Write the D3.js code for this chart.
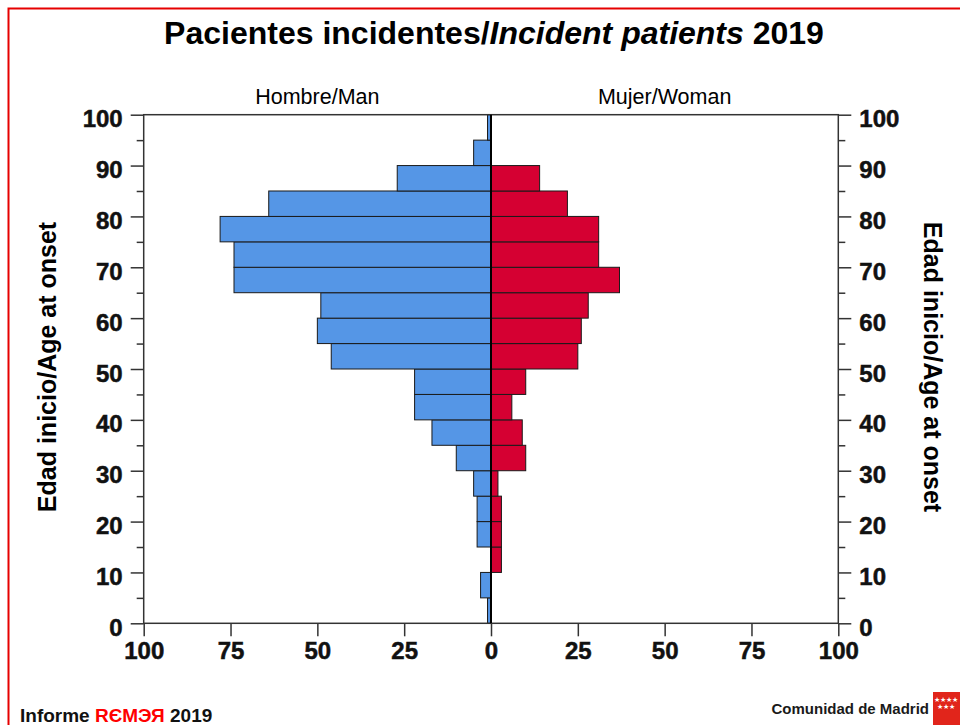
<!DOCTYPE html>
<html>
<head>
<meta charset="utf-8">
<script src="https://cdn.jsdelivr.net/npm/d3@7"></script>
<style>
  body { margin: 0; background: #fff; }
  svg { display: block; font-family: "Liberation Sans", Arial, sans-serif; }
</style>
</head>
<body>
<svg id="chart" width="960" height="725"></svg>
<script>
// age groups (start of each 5-year bin)
const ageStart = [0, 5, 10, 15, 20, 25, 30, 35, 40, 45, 50, 55, 60, 65, 70, 75, 80, 85, 90, 95];
const men   = [1, 3, 0, 4, 4, 5, 10, 17, 22, 22, 46, 50, 49, 74, 74, 78, 64, 27, 5, 1];
const women = [0, 0, 3, 3, 3, 2, 10, 9, 6, 10, 25, 26, 28, 37, 31, 31, 22, 14, 0, 0];
const xTicks = [-100, -75, -50, -25, 0, 25, 50, 75, 100];
const yMajor = [0, 10, 20, 30, 40, 50, 60, 70, 80, 90, 100];
const yMinor = [5, 15, 25, 35, 45, 55, 65, 75, 85, 95];

const svg = d3.select("#chart");
const plotL = 143.7, plotR = 838.3, plotT = 114.7, plotB = 623.3;

const x = d3.scaleLinear().domain([-100, 100]).range([plotL, plotR]);
const y = d3.scaleLinear().domain([0, 100]).range([plotB, plotT]);
const binH = y(0) - y(5);

// red page frame
svg.append("rect")
  .attr("x", 8.5).attr("y", 8.5)
  .attr("width", 970).attr("height", 730)
  .attr("fill", "none")
  .attr("stroke", "#e60000")
  .attr("stroke-width", 2);

// title
const title = svg.append("text")
  .attr("x", 494).attr("y", 44)
  .attr("text-anchor", "middle")
  .attr("font-size", "32px")
  .attr("font-weight", "bold")
  .attr("fill", "#000");
title.append("tspan").text("Pacientes incidentes/");
title.append("tspan").attr("font-style", "italic").text("Incident patients");
title.append("tspan").text(" 2019");

// panel labels
svg.append("text")
  .attr("x", (x(-100) + x(0)) / 2).attr("y", 104)
  .attr("text-anchor", "middle")
  .attr("font-size", "21.5px")
  .text("Hombre/Man");
svg.append("text")
  .attr("x", (x(0) + x(100)) / 2).attr("y", 104)
  .attr("text-anchor", "middle")
  .attr("font-size", "21.5px")
  .text("Mujer/Woman");

// bars
const plot = svg.append("g");

plot.selectAll(".men")
  .data(ageStart.map((a, i) => ({ age: a, v: men[i] })).filter(d => d.v > 0))
  .enter()
  .append("rect")
  .attr("class", "men")
  .attr("x", d => x(-d.v))
  .attr("y", d => y(d.age + 5))
  .attr("width", d => x(0) - x(-d.v))
  .attr("height", binH)
  .attr("fill", "#5596e6")
  .attr("stroke", "#1a1a1a")
  .attr("stroke-width", 1);

plot.selectAll(".women")
  .data(ageStart.map((a, i) => ({ age: a, v: women[i] })).filter(d => d.v > 0))
  .enter()
  .append("rect")
  .attr("class", "women")
  .attr("x", x(0))
  .attr("y", d => y(d.age + 5))
  .attr("width", d => x(d.v) - x(0))
  .attr("height", binH)
  .attr("fill", "#d50032")
  .attr("stroke", "#1a1a1a")
  .attr("stroke-width", 1);

// plot frame
svg.append("rect")
  .attr("x", plotL).attr("y", plotT)
  .attr("width", plotR - plotL).attr("height", plotB - plotT)
  .attr("fill", "none")
  .attr("stroke", "#333")
  .attr("stroke-width", 1.5);

// zero line
svg.append("line")
  .attr("x1", x(0)).attr("x2", x(0))
  .attr("y1", plotT).attr("y2", plotB)
  .attr("stroke", "#000")
  .attr("stroke-width", 2);

function styleAxis(g) {
  g.select(".domain").remove();
  g.selectAll(".tick line").attr("stroke", "#333").attr("stroke-width", 1.5);
  g.selectAll(".tick text")
    .attr("font-size", "24px")
    .attr("font-weight", "bold")
    .attr("fill", "#111")
    .attr("stroke", "#111")
    .attr("stroke-width", 0.5);
}

// bottom axis
svg.append("g")
  .attr("transform", `translate(0,${plotB})`)
  .call(d3.axisBottom(x).tickValues(xTicks).tickSize(13).tickPadding(6)
    .tickFormat(d => Math.abs(d)))
  .call(styleAxis);

// left axis
svg.append("g")
  .attr("transform", `translate(${plotL},0)`)
  .call(d3.axisLeft(y).tickValues(yMajor).tickSize(13).tickPadding(8))
  .call(styleAxis)
  .call(g => g.selectAll(".tick text").attr("dy", "0.5em"));
svg.append("g")
  .attr("transform", `translate(${plotL},0)`)
  .call(d3.axisLeft(y).tickValues(yMinor).tickSize(7).tickFormat(""))
  .call(styleAxis);

// right axis
svg.append("g")
  .attr("transform", `translate(${plotR},0)`)
  .call(d3.axisRight(y).tickValues(yMajor).tickSize(13).tickPadding(8))
  .call(styleAxis)
  .call(g => g.selectAll(".tick text").attr("dy", "0.5em"));
svg.append("g")
  .attr("transform", `translate(${plotR},0)`)
  .call(d3.axisRight(y).tickValues(yMinor).tickSize(7).tickFormat(""))
  .call(styleAxis);

// axis titles
svg.append("text")
  .attr("transform", `translate(56,${(plotT + plotB) / 2 - 2}) rotate(-90)`)
  .attr("text-anchor", "middle")
  .attr("font-size", "25px")
  .attr("font-weight", "bold")
  .text("Edad inicio/Age at onset");
svg.append("text")
  .attr("transform", `translate(924,${(plotT + plotB) / 2 - 2}) rotate(90)`)
  .attr("text-anchor", "middle")
  .attr("font-size", "25px")
  .attr("font-weight", "bold")
  .text("Edad inicio/Age at onset");

// footer
const foot = svg.append("text")
  .attr("x", 20).attr("y", 722)
  .attr("font-size", "19px")
  .attr("font-weight", "bold")
  .attr("fill", "#111");
foot.append("tspan").text("Informe ");
foot.append("tspan").attr("fill", "#ff0000").text("RЄMЭЯ");
foot.append("tspan").text(" 2019");

svg.append("text")
  .attr("x", 929).attr("y", 714)
  .attr("text-anchor", "end")
  .attr("font-size", "15px")
  .attr("font-weight", "bold")
  .attr("fill", "#1a1a1a")
  .text("Comunidad de Madrid");

// logo
svg.append("rect")
  .attr("x", 933).attr("y", 692)
  .attr("width", 27).attr("height", 33)
  .attr("fill", "#e1251b");
svg.append("text")
  .attr("x", 934).attr("y", 702)
  .attr("font-size", "7px")
  .attr("fill", "#fff")
  .text("★★★★");
svg.append("text")
  .attr("x", 937).attr("y", 709)
  .attr("font-size", "7px")
  .attr("fill", "#fff")
  .text("★★★");
</script>
</body>
</html>
